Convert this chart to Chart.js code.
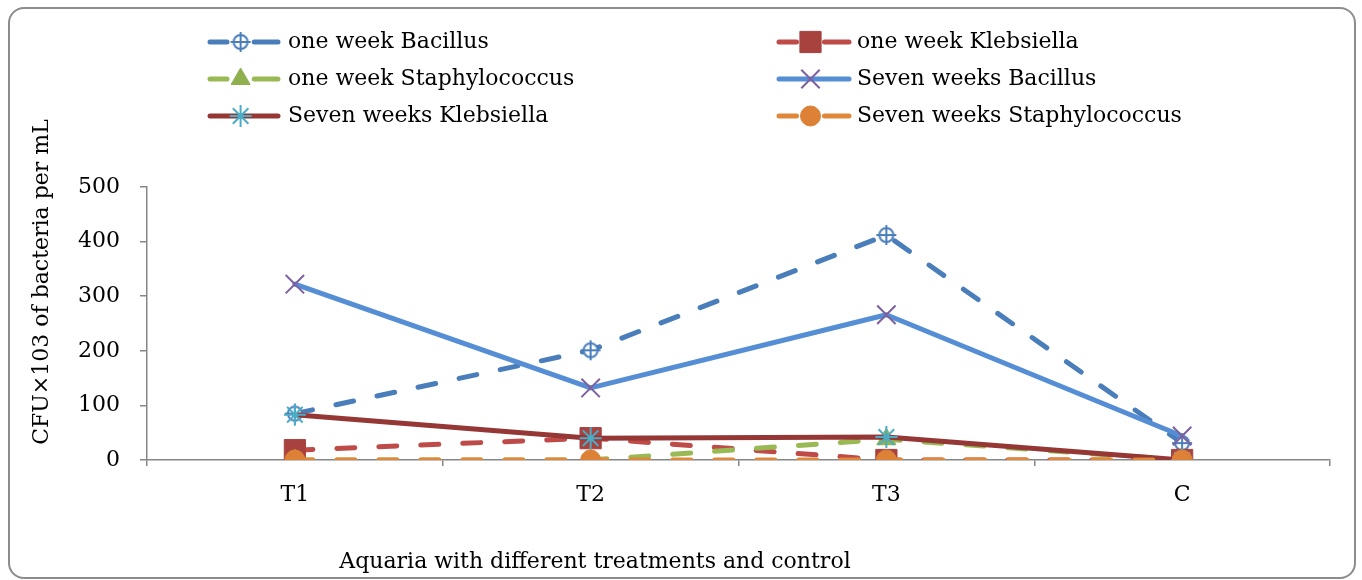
<!DOCTYPE html>
<html>
<head>
<meta charset="utf-8">
<script src="https://cdn.jsdelivr.net/npm/chart.js@4.4.1/dist/chart.umd.min.js"></script>
<style>
html,body{margin:0;padding:0;background:#fff;}
#wrap{position:relative;width:1362px;height:580px;}
#frame{position:absolute;left:8px;top:7px;width:1344px;height:568px;border:2px solid #8c8c8c;border-radius:16px;}
canvas{position:absolute;left:0;top:0;}
</style>
</head>
<body>
<div id="wrap"><div id="frame"></div><canvas id="c" width="1362" height="580"></canvas></div>
<script>
const categories = ['T1', 'T2', 'T3', 'C'];
const seriesNames = ['one week Bacillus', 'one week Klebsiella', 'one week Staphylococcus', 'Seven weeks Bacillus', 'Seven weeks Klebsiella', 'Seven weeks Staphylococcus'];
const oneWeekBacillus = [85, 201, 412, 31];
const oneWeekKlebsiella = [18, 40, 0, 0];
const oneWeekStaphylococcus = [0, 0, 38, 0];
const sevenWeeksBacillus = [322, 132, 266, 44];
const sevenWeeksKlebsiella = [83, 40, 42, 0];
const sevenWeeksStaphylococcus = [0, 0, 0, 0];
const yTicks = [0, 100, 200, 300, 400, 500];
const yTitle = 'CFU×103 of bacteria per mL';
const xTitle = 'Aquaria with different treatments and control';

const FONT = '"DejaVu Serif", serif';

function crossCircle() {
  const cv = document.createElement('canvas');
  cv.width = 22; cv.height = 22;
  const g = cv.getContext('2d');
  g.strokeStyle = '#4A7EBB'; g.lineWidth = 2;
  g.fillStyle = '#fff';
  g.beginPath(); g.arc(11, 11, 7, 0, Math.PI * 2); g.fill(); g.stroke();
  g.beginPath(); g.moveTo(11, 1); g.lineTo(11, 21); g.moveTo(1, 11); g.lineTo(21, 11); g.stroke();
  return cv;
}

const dash = [18, 24];
const datasets = [
  {label: seriesNames[0], data: oneWeekBacillus, borderColor: '#4A7EBB', borderDash: dash, pointStyle: crossCircle(), pointRadius: 11, pointBackgroundColor: '#fff', pointBorderColor: '#4A7EBB'},
  {label: seriesNames[1], data: oneWeekKlebsiella, borderColor: '#BE4B48', borderDash: dash, pointStyle: 'rect', pointRadius: 15, pointBackgroundColor: '#A8423F', pointBorderColor: '#A8423F'},
  {label: seriesNames[2], data: oneWeekStaphylococcus, borderColor: '#98B954', borderDash: dash, pointStyle: 'triangle', pointRadius: 11, pointBackgroundColor: '#8FB04E', pointBorderColor: '#8FB04E'},
  {label: seriesNames[3], data: sevenWeeksBacillus, borderColor: '#558ED5', borderDash: [], pointStyle: 'crossRot', pointRadius: 13, pointBackgroundColor: '#7D60A0', pointBorderColor: '#7D60A0', pointBorderWidth: 2},
  {label: seriesNames[4], data: sevenWeeksKlebsiella, borderColor: '#953735', borderDash: [], pointStyle: 'star', pointRadius: 11, pointBackgroundColor: '#4BACC6', pointBorderColor: '#4BACC6', pointBorderWidth: 2},
  {label: seriesNames[5], data: sevenWeeksStaphylococcus, borderColor: '#E0883A', borderDash: dash, pointStyle: 'circle', pointRadius: 10, pointBackgroundColor: '#DC8136', pointBorderColor: '#DC8136'}
].map((d, i) => Object.assign({
  borderWidth: 5, borderCapStyle: 'round', borderJoinStyle: 'round', tension: 0, order: 5 - i, pointBorderWidth: d.pointBorderWidth || 1
}, d));

const customText = {
  id: 'customText',
  afterDraw(chart) {
    const ctx = chart.ctx;
    ctx.save();
    ctx.fillStyle = '#000';
    ctx.font = '22px ' + FONT;
    ctx.textAlign = 'center'; ctx.textBaseline = 'middle';
    ctx.fillText(xTitle, 595, 562);
    ctx.translate(42, 282);
    ctx.rotate(-Math.PI / 2);
    ctx.fillText(yTitle, 0, 0);
    ctx.restore();
    // legend
    ctx.save();
    chart.data.datasets.forEach((ds, i) => {
      const col = i % 2, row = Math.floor(i / 2);
      const x0 = col === 0 ? 210 : 779;
      const len = col === 0 ? 68 : 70;
      const y = 42 + row * 37;
      ctx.save();
      ctx.strokeStyle = ds.borderColor; ctx.lineWidth = 5; ctx.lineCap = 'round';
      if (ds.borderDash.length) {
        ctx.beginPath(); ctx.moveTo(x0, y); ctx.lineTo(x0 + len * 0.25, y);
        ctx.moveTo(x0 + len * 0.65, y); ctx.lineTo(x0 + len, y); ctx.stroke();
      } else {
        ctx.beginPath(); ctx.moveTo(x0, y); ctx.lineTo(x0 + len, y); ctx.stroke();
      }
      ctx.restore();
      ctx.save();
      ctx.fillStyle = ds.pointBackgroundColor; ctx.strokeStyle = ds.pointBorderColor; ctx.lineWidth = ds.pointBorderWidth;
      Chart.helpers.drawPoint(ctx, {pointStyle: ds.pointStyle, radius: ds.pointRadius, borderWidth: ds.pointBorderWidth, rotation: 0}, x0 + len * 0.45, y);
      ctx.restore();
      ctx.fillStyle = '#000'; ctx.font = '22px ' + FONT;
      ctx.textAlign = 'left'; ctx.textBaseline = 'middle';
      ctx.fillText(ds.label, col === 0 ? 288 : 857, y);
    });
    ctx.restore();
  }
};

new Chart(document.getElementById('c'), {
  type: 'line',
  data: {labels: categories, datasets},
  options: {
    responsive: false, animation: false,
    layout: {padding: {top: 187, right: 32, left: 0, bottom: 0}},
    plugins: {legend: {display: false}, tooltip: {enabled: false}},
    scales: {
      x: {
        offset: true,
        grid: {display: true, offset: true, drawOnChartArea: false, drawTicks: true, tickLength: 6, color: '#868686', lineWidth: 1.5},
        border: {display: true, color: '#868686', width: 1.5},
        ticks: {color: '#000', font: {family: FONT, size: 22}, padding: 16},
        afterFit(s) { s.height = 120; }
      },
      y: {
        min: 0, max: 500,
        afterBuildTicks(s) { s.ticks = yTicks.map(v => ({value: v})); },
        grid: {display: true, drawOnChartArea: false, drawTicks: true, tickLength: 7, color: '#868686', lineWidth: 1.5},
        border: {display: true, color: '#868686', width: 1.5},
        ticks: {color: '#000', font: {family: FONT, size: 22}, padding: 20},
        afterFit(s) { s.width = 147; }
      }
    }
  },
  plugins: [customText]
});
</script>
</body>
</html>
